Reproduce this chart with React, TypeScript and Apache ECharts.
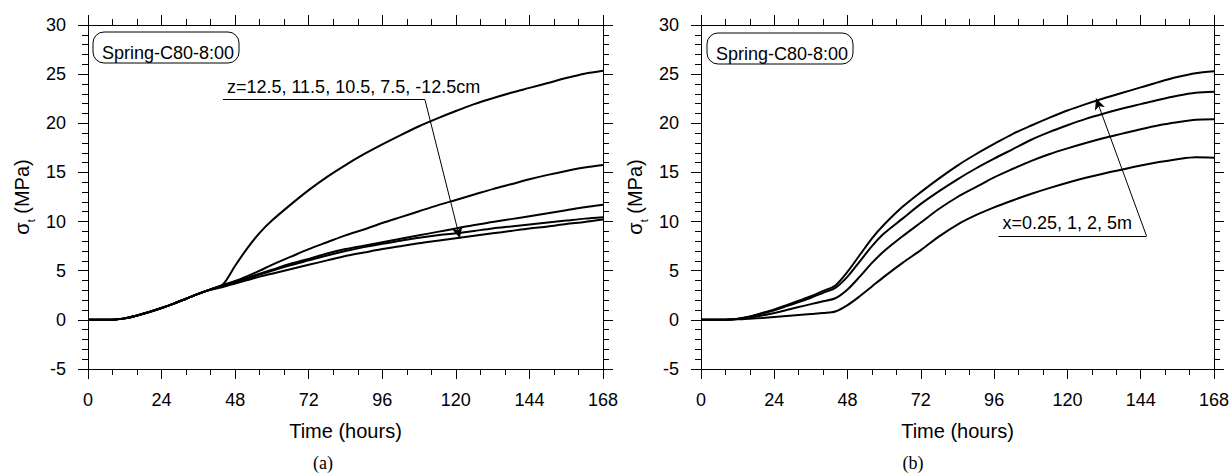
import React, { useEffect, useRef } from "react";
import * as echarts from "echarts";

// ---------- data ----------
const timeHours = [0, 4, 8, 12, 16, 20, 24, 28, 32, 36, 40, 44, 48, 52, 56, 60, 66, 72, 78, 84, 90, 96, 102, 108, 114, 120, 126, 132, 138, 144, 150, 156, 162, 168];

// panel (a): depth z
const zNames = ["z=12.5cm", "z=11.5cm", "z=10.5cm", "z=7.5cm", "z=-12.5cm"];
const stressZ125 = [0, 0, 0.02, 0.15, 0.45, 0.8, 1.2, 1.65, 2.15, 2.65, 3.1, 3.6, 5.5, 7.3, 8.85, 10.1, 11.7, 13.2, 14.55, 15.75, 16.85, 17.85, 18.8, 19.7, 20.5, 21.25, 21.95, 22.55, 23.1, 23.6, 24.1, 24.6, 25.05, 25.35];
const stressZ115 = [0, 0, 0.02, 0.15, 0.45, 0.8, 1.2, 1.65, 2.15, 2.65, 3.1, 3.55, 3.95, 4.45, 5.0, 5.6, 6.4, 7.2, 7.9, 8.6, 9.2, 9.85, 10.45, 11.05, 11.65, 12.2, 12.75, 13.3, 13.8, 14.3, 14.75, 15.15, 15.5, 15.75];
const stressZ105 = [0, 0, 0.02, 0.15, 0.45, 0.8, 1.2, 1.65, 2.15, 2.65, 3.1, 3.5, 3.9, 4.3, 4.7, 5.1, 5.7, 6.2, 6.75, 7.2, 7.55, 7.9, 8.25, 8.6, 8.95, 9.3, 9.65, 9.95, 10.25, 10.55, 10.85, 11.15, 11.45, 11.7];
const stressZ75 = [0, 0, 0.02, 0.15, 0.45, 0.8, 1.2, 1.65, 2.15, 2.65, 3.1, 3.45, 3.8, 4.2, 4.6, 5.0, 5.55, 6.05, 6.55, 7.0, 7.4, 7.75, 8.05, 8.35, 8.6, 8.8, 9.05, 9.3, 9.5, 9.7, 9.9, 10.1, 10.3, 10.45];
const stressZm125 = [0, 0, 0.02, 0.15, 0.45, 0.8, 1.2, 1.65, 2.15, 2.65, 3.05, 3.35, 3.7, 4.05, 4.4, 4.7, 5.15, 5.6, 6.05, 6.5, 6.85, 7.2, 7.5, 7.8, 8.05, 8.3, 8.55, 8.8, 9.05, 9.3, 9.5, 9.75, 9.95, 10.2];

// panel (b): distance x
const xNames = ["x=0.25m", "x=1m", "x=2m", "x=5m"];
const stressX025 = [0, 0, 0.02, 0.12, 0.35, 0.7, 1.05, 1.5, 1.95, 2.4, 2.95, 3.5, 4.9, 6.6, 8.3, 9.7, 11.5, 13.0, 14.4, 15.7, 16.85, 17.9, 18.9, 19.75, 20.55, 21.3, 21.95, 22.55, 23.1, 23.65, 24.2, 24.7, 25.1, 25.3];
const stressX1 = [0, 0, 0.02, 0.1, 0.32, 0.65, 0.98, 1.4, 1.8, 2.25, 2.75, 3.25, 4.4, 5.95, 7.5, 8.8, 10.3, 11.8, 13.1, 14.3, 15.4, 16.4, 17.35, 18.3, 19.1, 19.8, 20.45, 21.0, 21.5, 21.95, 22.4, 22.8, 23.1, 23.2];
const stressX2 = [0, 0, 0.01, 0.08, 0.22, 0.45, 0.7, 1.0, 1.3, 1.6, 1.9, 2.2, 3.1, 4.4, 5.8, 7.0, 8.5, 9.9, 11.3, 12.5, 13.5, 14.5, 15.35, 16.15, 16.85, 17.45, 18.0, 18.5, 18.95, 19.4, 19.8, 20.1, 20.35, 20.4];
const stressX5 = [0, 0, 0.01, 0.05, 0.12, 0.2, 0.3, 0.4, 0.5, 0.6, 0.7, 0.85, 1.5, 2.4, 3.4, 4.4, 5.8, 7.1, 8.5, 9.7, 10.65, 11.45, 12.15, 12.8, 13.4, 13.95, 14.45, 14.9, 15.3, 15.7, 16.05, 16.35, 16.55, 16.5];

// axis ranges / texts
const xMin = 0, xMax = 168, xStep = 24;
const yMin = -5, yMax = 30, yStep = 5;
const caseLabel = "Spring-C80-8:00";
const noteA = "z=12.5, 11.5, 10.5, 7.5, -12.5cm";
const noteB = "x=0.25, 1, 2, 5m";
// callout anchor points in data units [time, stress]
const calloutA = [[44.0, 22.42], [109.9, 22.42], [121.3, 8.3]];
const calloutB = [[97.4, 8.54], [145.9, 8.54], [129.4, 22.52]];

const BLACK = "#000";
const SANS = "'Liberation Sans', Arial, Helvetica, sans-serif";
const SERIF = "'Liberation Serif', 'Times New Roman', serif";

function xAxes(gridIndex: number) {
  const common: any = {
    type: "value", gridIndex, min: xMin, max: xMax, interval: xStep,
    axisLine: { show: true, onZero: false, lineStyle: { color: BLACK, width: 1 } },
    axisTick: { show: true, inside: false, length: 10, lineStyle: { color: BLACK, width: 1 } },
    minorTick: { show: true, splitNumber: 3, length: 6, lineStyle: { color: BLACK, width: 1 } },
    splitLine: { show: false }, minorSplitLine: { show: false },
  };
  return [
    {
      ...common, position: "bottom",
      axisLabel: { show: true, margin: 22, fontSize: 18, color: BLACK, fontFamily: SANS },
      name: "Time (hours)", nameLocation: "middle", nameGap: 52,
      nameTextStyle: { fontSize: 20, color: BLACK, fontFamily: SANS },
    },
    { ...common, position: "top", axisLabel: { show: false } },
  ];
}

function yAxes(gridIndex: number) {
  const common: any = {
    type: "value", gridIndex, min: yMin, max: yMax, interval: yStep,
    axisLine: { show: true, onZero: false, lineStyle: { color: BLACK, width: 1 } },
    axisTick: { show: true, inside: false, length: 10, lineStyle: { color: BLACK, width: 1 } },
    minorTick: { show: true, splitNumber: 5, length: 6, lineStyle: { color: BLACK, width: 1 } },
    splitLine: { show: false }, minorSplitLine: { show: false },
  };
  return [
    {
      ...common, position: "left",
      axisLabel: { show: true, margin: 22, fontSize: 18, color: BLACK, fontFamily: SANS },
      name: "{m|σ}{s|t}{m| (MPa)}", nameLocation: "middle", nameGap: 52, nameRotate: 90,
      nameTextStyle: {
        color: BLACK, fontFamily: SANS, fontSize: 20,
        rich: {
          m: { fontSize: 20, fontFamily: SANS, color: BLACK, lineHeight: 24, verticalAlign: "top" },
          s: { fontSize: 11, fontFamily: SANS, color: BLACK, lineHeight: 11, verticalAlign: "bottom" },
        },
      },
    },
    { ...common, position: "right", axisLabel: { show: false } },
  ];
}

function lineSeries(name: string, values: number[], axisIdx: number) {
  return {
    type: "line", name, xAxisIndex: axisIdx, yAxisIndex: axisIdx,
    data: timeHours.map((t, i) => [t, values[i]]),
    symbol: "none", showSymbol: false, smooth: 0.3,
    lineStyle: { color: BLACK, width: 2 }, silent: true, z: 3,
  };
}

function callout(points: number[][], text: string) {
  return {
    silent: true, animation: false, symbol: ["none", "none"],
    lineStyle: { color: BLACK, width: 1, type: "solid" },
    label: { show: false },
    data: [
      [
        {
          coord: points[0], symbol: "none",
          label: {
            show: true, position: "insideStartTop", formatter: text, distance: 4,
            color: BLACK, fontSize: 18, fontFamily: SANS,
          },
        },
        { coord: points[1], symbol: "none" },
      ],
      [
        { coord: points[1], symbol: "none", label: { show: false } },
        { coord: points[2], symbol: "arrow", symbolSize: [8, 11] },
      ],
    ],
  };
}

function caseBox(x: number, y: number) {
  return {
    type: "group", x, y, silent: true,
    children: [
      { type: "rect", shape: { x: 0, y: 0, width: 146, height: 31, r: 11 }, style: { fill: "#fff", stroke: BLACK, lineWidth: 1 } },
      { type: "text", x: 9, y: 21, style: { text: caseLabel, fontSize: 18, fontFamily: SANS, fill: BLACK, verticalAlign: "middle", align: "left" } },
    ],
  };
}

export default function App() {
  const ref = useRef<HTMLDivElement>(null);
  useEffect(() => {
    if (!ref.current) return;
    const chart = echarts.init(ref.current, undefined, { renderer: "svg" });
    const sa: any[] = [
      lineSeries(zNames[0], stressZ125, 0),
      lineSeries(zNames[1], stressZ115, 0),
      lineSeries(zNames[2], stressZ105, 0),
      lineSeries(zNames[3], stressZ75, 0),
      lineSeries(zNames[4], stressZm125, 0),
    ];
    sa[0].markLine = callout(calloutA, noteA);
    const sb: any[] = [
      lineSeries(xNames[0], stressX025, 2),
      lineSeries(xNames[1], stressX1, 2),
      lineSeries(xNames[2], stressX2, 2),
      lineSeries(xNames[3], stressX5, 2),
    ];
    sb[0].markLine = callout(calloutB, noteB);
    const option: any = {
      animation: false,
      backgroundColor: "#fff",
      grid: [
        { left: 88, right: 629, top: 25, bottom: 105 },
        { left: 701, right: 15, top: 25, bottom: 105 },
      ],
      xAxis: [...xAxes(0), ...xAxes(1)],
      yAxis: [...yAxes(0), ...yAxes(1)],
      series: [...sa, ...sb],
      graphic: [
        caseBox(93, 32),
        caseBox(707, 33),
        { type: "text", x: 323, y: 463, silent: true, style: { text: "(a)", fontSize: 18, fontFamily: SERIF, fill: BLACK, align: "center", verticalAlign: "middle" } },
        { type: "text", x: 913, y: 463, silent: true, style: { text: "(b)", fontSize: 18, fontFamily: SERIF, fill: BLACK, align: "center", verticalAlign: "middle" } },
      ],
    };
    chart.setOption(option);
    return () => chart.dispose();
  }, []);
  return <div ref={ref} style={{ position: "absolute", left: 0, top: 0, width: 1232, height: 474 }} />;
}
